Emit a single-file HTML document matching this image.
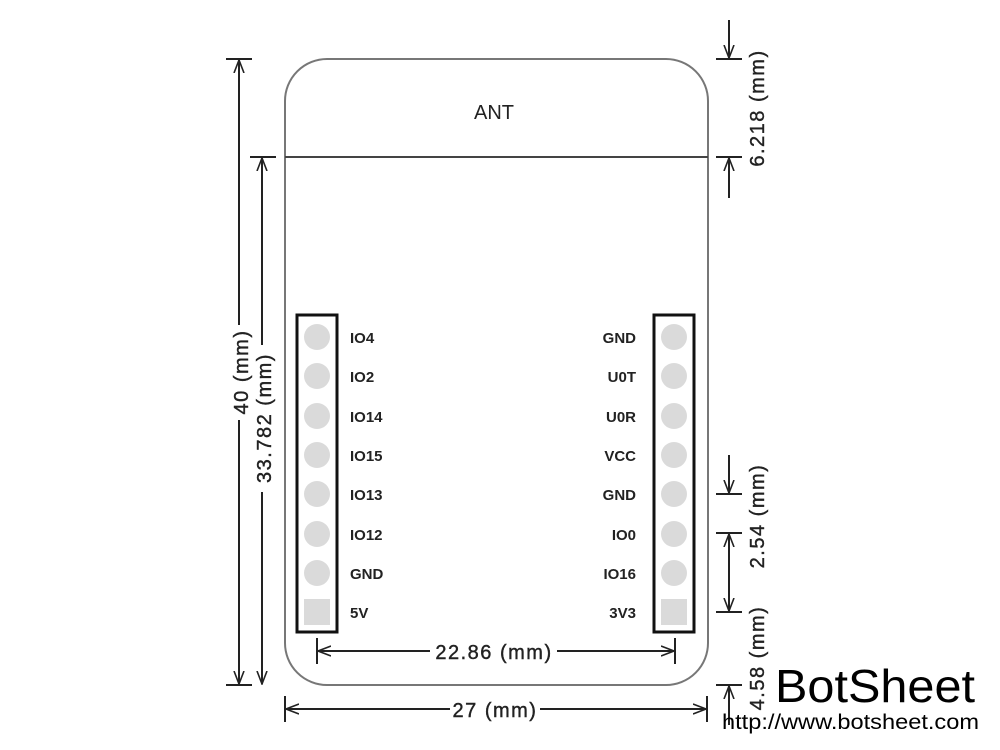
<!DOCTYPE html>
<html><head><meta charset="utf-8"><style>
html,body{margin:0;padding:0;background:#fff;}
svg{display:block;}
text{font-family:"Liberation Sans",sans-serif;}
</style></head><body>
<svg width="1000" height="750" viewBox="0 0 1000 750" xmlns="http://www.w3.org/2000/svg">
<defs>
<marker id="a" markerWidth="14" markerHeight="12" refX="13" refY="6" orient="auto" markerUnits="userSpaceOnUse">
<path d="M0,1 L13,6 L0,11" fill="none" stroke="#222" stroke-width="1.6"/>
</marker>
</defs>
<rect x="285" y="59" width="423" height="626" rx="42" fill="none" stroke="#777" stroke-width="2"/>
<line x1="285" y1="157" x2="708" y2="157" stroke="#444" stroke-width="2"/>
<text x="494" y="119" font-size="20" text-anchor="middle" fill="#222">ANT</text>

<rect x="297" y="315" width="40" height="317" fill="none" stroke="#111" stroke-width="3"/>
<rect x="654" y="315" width="40" height="317" fill="none" stroke="#111" stroke-width="3"/>
<g fill="#dadada">
<circle cx="317" cy="337" r="13"/><circle cx="317" cy="376" r="13"/><circle cx="317" cy="416" r="13"/><circle cx="317" cy="455" r="13"/>
<circle cx="317" cy="494" r="13"/><circle cx="317" cy="534" r="13"/><circle cx="317" cy="573" r="13"/><rect x="304" y="599" width="26" height="26"/>
<circle cx="674" cy="337" r="13"/><circle cx="674" cy="376" r="13"/><circle cx="674" cy="416" r="13"/><circle cx="674" cy="455" r="13"/>
<circle cx="674" cy="494" r="13"/><circle cx="674" cy="534" r="13"/><circle cx="674" cy="573" r="13"/><rect x="661" y="599" width="26" height="26"/>
</g>
<g font-size="15" font-weight="bold" fill="#222">
<text x="350" y="343">IO4</text><text x="350" y="382">IO2</text><text x="350" y="422">IO14</text><text x="350" y="461">IO15</text>
<text x="350" y="500">IO13</text><text x="350" y="540">IO12</text><text x="350" y="579">GND</text><text x="350" y="618">5V</text>
</g>
<g font-size="15" font-weight="bold" fill="#222" text-anchor="end">
<text x="636" y="343">GND</text><text x="636" y="382">U0T</text><text x="636" y="422">U0R</text><text x="636" y="461">VCC</text>
<text x="636" y="500">GND</text><text x="636" y="540">IO0</text><text x="636" y="579">IO16</text><text x="636" y="618">3V3</text>
</g>

<g stroke="#222" stroke-width="2" fill="none">
<line x1="226" y1="59" x2="252" y2="59"/><line x1="226" y1="685" x2="252" y2="685"/>
<line x1="239" y1="325" x2="239" y2="60" marker-end="url(#a)"/>
<line x1="239" y1="420" x2="239" y2="684" marker-end="url(#a)"/>
<line x1="250" y1="157" x2="276" y2="157"/>
<line x1="262" y1="345" x2="262" y2="158" marker-end="url(#a)"/>
<line x1="262" y1="492" x2="262" y2="684" marker-end="url(#a)"/>
<line x1="317" y1="638" x2="317" y2="664"/><line x1="675" y1="638" x2="675" y2="664"/>
<line x1="430" y1="651" x2="318" y2="651" marker-end="url(#a)"/>
<line x1="557" y1="651" x2="674" y2="651" marker-end="url(#a)"/>
<line x1="285" y1="696" x2="285" y2="722"/><line x1="707" y1="696" x2="707" y2="722"/>
<line x1="450" y1="709" x2="286" y2="709" marker-end="url(#a)"/>
<line x1="540" y1="709" x2="706" y2="709" marker-end="url(#a)"/>
<line x1="716" y1="59" x2="742" y2="59"/><line x1="716" y1="157" x2="742" y2="157"/>
<line x1="729" y1="20" x2="729" y2="58" marker-end="url(#a)"/>
<line x1="729" y1="198" x2="729" y2="158" marker-end="url(#a)"/>
<line x1="716" y1="494" x2="742" y2="494"/><line x1="716" y1="533" x2="742" y2="533"/><line x1="716" y1="612" x2="742" y2="612"/>
<line x1="729" y1="455" x2="729" y2="493" marker-end="url(#a)"/>
<line x1="729" y1="572" x2="729" y2="534" marker-end="url(#a)"/>
<line x1="729" y1="572" x2="729" y2="611" marker-end="url(#a)"/>
<line x1="716" y1="685" x2="742" y2="685"/>
<line x1="729" y1="725" x2="729" y2="686" marker-end="url(#a)"/>
</g>

<g font-size="20" fill="#222" text-anchor="middle" letter-spacing="1.5" stroke="#222" stroke-width="0.4">
<text transform="translate(248,372) rotate(-90)">40 (mm)</text>
<text transform="translate(271,418) rotate(-90)">33.782 (mm)</text>
<text transform="translate(764,108) rotate(-90)">6.218 (mm)</text>
<text transform="translate(764,516) rotate(-90)">2.54 (mm)</text>
<text transform="translate(764,658) rotate(-90)">4.58 (mm)</text>
<text x="494" y="659">22.86 (mm)</text>
<text x="495" y="717">27 (mm)</text>
</g>

<text x="975" y="702" font-size="46" text-anchor="end" fill="#000" textLength="200" lengthAdjust="spacingAndGlyphs">BotSheet</text>
<text x="979" y="729" font-size="21" text-anchor="end" fill="#000" textLength="257" lengthAdjust="spacingAndGlyphs">http://www.botsheet.com</text>
</svg>
</body></html>
